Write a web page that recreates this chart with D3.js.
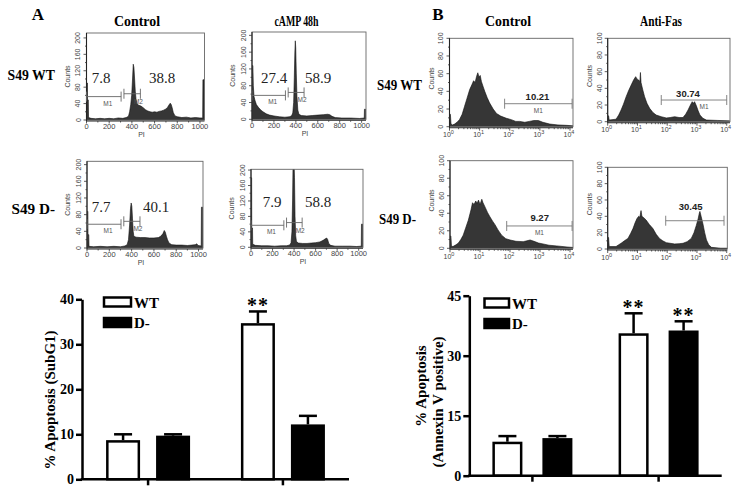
<!DOCTYPE html>
<html>
<head>
<meta charset="utf-8">
<script src="https://d3js.org/d3.v7.min.js"></script>
<style>
  body { margin: 0; background: #fff; }
  svg { display: block; }
</style>
</head>
<body>
<svg id="fig" width="743" height="496"></svg>
<script>
// ----- values -----
const conditionsA = ["Control", "cAMP 48h"];
const conditionsB = ["Control", "Anti-Fas"];
const cellLines = ["S49 WT", "S49 D-"];

// PI histograms: [channel, counts]
const piCtrlWT = [[0,0],[2,90],[8,90],[9,49],[16,49],[18,6],[40,4],[80,3],[120,4],[160,3],[200,4],[240,3],[280,5],[320,4],[350,6],[370,9],[380,20],[390,38],[398,60],[405,95],[412,136],[418,128],[424,100],[430,70],[436,52],[445,40],[460,36],[480,34],[500,30],[520,25],[540,22],[560,20],[580,19],[600,20],[620,19],[640,21],[660,22],[680,24],[700,27],[715,31],[728,37],[738,41],[746,38],[755,30],[765,18],[780,10],[800,8],[840,6],[880,7],[920,5],[960,6],[1000,5],[1024,5],[1026,98],[1036,98],[1038,0]];
const piCampWT = [[0,0],[2,128],[8,128],[12,80],[18,55],[26,46],[40,35],[60,28],[80,22],[100,18],[130,13],[160,10],[200,8],[250,6],[300,5],[340,6],[360,8],[372,15],[380,40],[386,100],[391,160],[395,187],[399,170],[404,110],[410,55],[418,22],[428,12],[450,9],[500,8],[550,9],[600,10],[650,11],[690,12],[710,11],[730,7],[760,4],[820,3],[900,3],[980,2],[1024,3],[1026,24],[1036,24],[1038,0]];
const piCtrlD = [[0,0],[2,88],[8,88],[9,32],[16,32],[18,4],[60,3],[120,4],[180,3],[240,4],[300,3],[340,5],[360,8],[372,20],[382,55],[390,95],[396,108],[402,100],[408,70],[414,40],[420,28],[440,26],[480,25],[520,25],[560,24],[600,24],[640,25],[660,28],[680,34],[693,42],[702,38],[712,28],[722,20],[735,12],[760,8],[800,7],[850,7],[900,6],[940,7],[970,8],[985,10],[995,6],[1024,5],[1026,98],[1036,98],[1038,0]];
const piCampD = [[0,0],[2,180],[6,180],[7,50],[14,50],[16,8],[40,5],[100,4],[160,4],[220,3],[280,4],[330,4],[360,6],[372,12],[380,40],[386,120],[391,230],[398,240],[404,180],[409,80],[415,30],[422,15],[440,11],[480,10],[520,10],[560,11],[600,12],[640,14],[670,18],[690,22],[703,24],[712,20],[722,10],[740,5],[780,3],[850,3],[920,3],[980,2],[1024,3],[1026,60],[1036,60],[1038,0]];
const piPct = [["7.8", "38.8"], ["27.4", "58.9"], ["7.7", "40.1"], ["7.9", "58.8"]];
const piM1 = [0, 305, 57];   // start, end, height (counts)
const piM2 = [330, 475, 64];
const piXTicks = [0, 200, 400, 600, 800, 1000];
const piYTicks = [0, 40, 80, 120, 160, 200];

// Annexin V histograms: [log10 intensity, counts]
const anxCtrlWT = [[0,0],[0,14],[0.03,14],[0.05,3],[0.1,2],[0.17,3],[0.25,5],[0.33,8],[0.42,14],[0.5,23],[0.58,32],[0.67,42],[0.75,48],[0.8,52],[0.85,50],[0.9,57],[0.94,61],[0.98,56],[1.02,58],[1.06,51],[1.12,45],[1.17,40],[1.25,33],[1.33,27],[1.45,20],[1.56,15],[1.7,12],[1.89,9.5],[2.05,8],[2.2,6],[2.33,6],[2.5,5],[2.65,6],[2.8,7],[2.95,7],[3.1,5],[3.33,3],[3.6,2],[3.9,1.5],[4.1,1],[4.1,0]];
const anxFasWT = [[0,0],[0,7],[0.03,7],[0.05,2],[0.28,3],[0.37,8],[0.45,14],[0.53,21],[0.62,30],[0.7,37],[0.79,44],[0.87,50],[0.94,54],[0.99,51],[1.04,50],[1.08,48],[1.1,59],[1.12,47],[1.18,38],[1.24,30],[1.32,22],[1.41,16],[1.52,11],[1.63,8],[1.8,6],[1.97,4.5],[2.1,5],[2.25,6],[2.4,5],[2.53,5],[2.62,9],[2.7,14],[2.78,20],[2.84,24],[2.88,22],[2.92,24],[2.98,19],[3.04,13],[3.1,8],[3.2,4],[3.32,2],[3.7,1.5],[4.1,1],[4.1,0]];
const anxCtrlD = [[0,0],[0,14],[0.03,14],[0.05,2],[0.11,2.3],[0.2,4],[0.28,6],[0.36,10],[0.44,15],[0.52,23],[0.61,32],[0.7,44],[0.75,52],[0.8,50],[0.86,54],[0.9,51],[0.95,55],[1.0,50],[1.06,56],[1.1,52],[1.17,47],[1.25,41],[1.33,36],[1.42,31],[1.5,27],[1.6,21],[1.72,15],[1.86,11],[2.0,9.5],[2.2,8],[2.44,7.6],[2.56,8.5],[2.67,9.5],[2.8,8],[2.95,6],[3.1,5],[3.3,3.5],[3.56,2.7],[3.9,1.5],[4.1,1],[4.1,0]];
const anxFasD = [[0,0],[0,14],[0.03,14],[0.05,3],[0.28,3],[0.36,5],[0.45,7],[0.56,10],[0.68,13],[0.77,19],[0.85,25],[0.92,32],[0.98,37],[1.04,40],[1.08,39],[1.12,47],[1.15,40],[1.22,38],[1.29,35.5],[1.4,30],[1.52,25],[1.63,18],[1.74,13],[1.85,10],[1.97,7.8],[2.1,7],[2.25,6.2],[2.4,6.5],[2.53,7],[2.67,9],[2.81,13],[2.9,20],[2.98,29],[3.04,37],[3.08,44],[3.1,46],[3.14,40],[3.2,31],[3.26,20],[3.32,11],[3.4,5],[3.49,2],[3.8,1],[4.02,1],[4.02,0]];
const anxPct = ["10.21", "30.74", "9.27", "30.45"];
const anxGates = [[1.83, 4.07, 26], [1.80, 4.0, 26], [1.89, 4.07, 25.5], [1.95, 3.91, 34.6]];
const anxXTicks = [0, 1, 2, 3, 4];
const anxYTicks = [0, 20, 40, 60, 80, 100];

// bar charts (order: WT control, D- control, WT treated, D- treated)
const barGroups = ["untreated", "treated"];
const barSeries = ["WT", "D-"];
const subG1Mean = [8.7, 9.7, 34.7, 12.2];
const subG1Err = [10.0, 10.0, 37.3, 14.1];
const subG1Stars = ["", "", "**", ""];
const subG1Ticks = [0, 10, 20, 30, 40];
const annexMean = [8.5, 9.4, 35.6, 36.3];
const annexErr = [9.9, 9.9, 40.6, 38.6];
const annexStars = ["", "", "**", "**"];
const annexTicks = [0, 15, 30, 45];

// ----- drawing -----
const svg = d3.select("#fig");
const serif = "'Liberation Serif','Times New Roman',serif";
const sans = "'Liberation Sans',Arial,sans-serif";

function txt(x, y, s, size, opts = {}) {
  const t = svg.append("text")
    .attr("x", x).attr("y", y)
    .attr("font-family", opts.family || serif)
    .attr("font-size", size)
    .attr("font-weight", opts.weight || "normal")
    .attr("fill", opts.fill || "#000")
    .attr("text-anchor", opts.anchor || "start")
    .text(s);
  if (opts.len) t.attr("textLength", opts.len).attr("lengthAdjust", "spacingAndGlyphs");
  if (opts.rot) t.attr("transform", `rotate(-90,${x},${y})`);
  return t;
}

// panel letters, column titles, row labels
txt(38, 20, "A", 17, { weight: "bold", anchor: "middle" });
txt(438, 20, "B", 17, { weight: "bold", anchor: "middle" });
txt(114, 25.5, conditionsA[0], 14, { weight: "bold", len: 46 });
txt(274.5, 25.5, conditionsA[1], 14, { weight: "bold", len: 44 });
txt(485, 25.5, conditionsB[0], 14, { weight: "bold", len: 46 });
txt(640, 25.5, conditionsB[1], 14, { weight: "bold", len: 42 });
txt(7.5, 80, cellLines[0], 14, { weight: "bold", len: 47.5 });
txt(11.5, 214, cellLines[1], 14, { weight: "bold", len: 43.5 });
txt(377, 90, cellLines[0], 14, { weight: "bold", len: 45 });
txt(379, 224, cellLines[1], 14, { weight: "bold", len: 37 });

const piPanels = [
  { data: piCtrlWT, pct: piPct[0], x0: 86.5, x1: 204.5, y0: 33, y1: 120, yMax: 212, lab: [[101, 83], [162, 83]] },
  { data: piCampWT, pct: piPct[1], x0: 252, x1: 366, y0: 32, y1: 119.3, yMax: 208, lab: [[274, 83], [318, 83]] },
  { data: piCtrlD, pct: piPct[2], x0: 87, x1: 203, y0: 161.3, y1: 248, yMax: 208, lab: [[101, 212], [156, 212]] },
  { data: piCampD, pct: piPct[3], x0: 251, x1: 363, y0: 169.3, y1: 247.3, yMax: 202, lab: [[272, 207], [318, 207]] }
];

const anxPanels = [
  { data: anxCtrlWT, pct: anxPct[0], gate: anxGates[0], x0: 449.5, x1: 573, y0: 38.3, y1: 126.7, xMax: 4.1, lab: [537.5, 99.5], m1: 0 },
  { data: anxFasWT, pct: anxPct[1], gate: anxGates[1], x0: 607.7, x1: 730, y0: 38.3, y1: 121.7, xMax: 4.11, lab: [688, 96.5], m1: 10 },
  { data: anxCtrlD, pct: anxPct[2], gate: anxGates[2], x0: 450, x1: 573, y0: 160.7, y1: 248.3, xMax: 4.1, lab: [539.7, 220.7], m1: 0 },
  { data: anxFasD, pct: anxPct[3], gate: anxGates[3], x0: 607.7, x1: 727.3, y0: 167.3, y1: 249, xMax: 4.02, lab: [690.7, 210], m1: null }
];

let clipId = 0;
function histogram(p, x, y) {
  const id = "clip" + (clipId++);
  svg.append("clipPath").attr("id", id)
    .append("rect").attr("x", p.x0).attr("y", p.y0)
    .attr("width", p.x1 - p.x0).attr("height", p.y1 - p.y0);
  const area = d3.area().x(d => x(d[0])).y0(y(0)).y1(d => y(d[1]));
  svg.append("path").datum(p.data)
    .attr("clip-path", `url(#${id})`)
    .attr("d", area)
    .attr("fill", "#363636")
    .attr("stroke", "#111").attr("stroke-width", 0.6);
  // frame
  svg.append("rect").attr("x", p.x0).attr("y", p.y0)
    .attr("width", p.x1 - p.x0).attr("height", p.y1 - p.y0)
    .attr("fill", "none").attr("stroke", "#666").attr("stroke-width", 0.9);
  svg.append("path")
    .attr("d", `M${p.x0},${p.y0}V${p.y1 + 1}H${p.x1}`)
    .attr("fill", "none").attr("stroke", "#222").attr("stroke-width", 1.1);
}

function tick(x1, y1, x2, y2, w = 0.8) {
  svg.append("line").attr("x1", x1).attr("y1", y1).attr("x2", x2).attr("y2", y2)
    .attr("stroke", "#333").attr("stroke-width", w);
}

function marker(x, y, a, b, h, col = "#666") {
  const g = svg.append("g").attr("stroke", col).attr("stroke-width", 0.9).attr("fill", "none");
  g.append("line").attr("x1", x(a)).attr("x2", x(b)).attr("y1", y(h)).attr("y2", y(h));
  [a, b].forEach(v => g.append("line").attr("x1", x(v)).attr("x2", x(v))
    .attr("y1", y(h) - 5).attr("y2", y(h) + 5));
}

piPanels.forEach(p => {
  const x = d3.scaleLinear().domain([0, 1040]).range([p.x0, p.x1]);
  const y = d3.scaleLinear().domain([0, p.yMax]).range([p.y1, p.y0]);
  histogram(p, x, y);
  d3.range(0, 1040, 100).forEach(v => tick(x(v), p.y1 + 1, x(v), p.y1 + (v % 200 ? 2.5 : 3.5)));
  d3.range(0, p.yMax, 20).forEach(v => tick(p.x0, y(v), p.x0 - (v % 40 ? 1.5 : 3), y(v)));
  piXTicks.forEach(v => txt(x(v), p.y1 + 9, String(v), 7.5, { family: sans, anchor: "middle", fill: "#444" }));
  piYTicks.forEach(v => txt(p.x0 - 6, y(v), String(v), 7, { family: sans, anchor: "middle", fill: "#444", rot: true }));
  txt(p.x0 - 17, (p.y0 + p.y1) / 2, "Counts", 7, { family: sans, anchor: "middle", fill: "#444", rot: true });
  txt((p.x0 + p.x1) / 2 - 4, p.y1 + 17, "PI", 7, { family: sans, anchor: "middle", fill: "#444" });
  marker(x, y, piM1[0], piM1[1], piM1[2]);
  marker(x, y, piM2[0], piM2[1], piM2[2]);
  txt((x(piM1[0]) + x(piM1[1])) / 2 + 4, y(piM1[2]) + 9, "M1", 6.5, { family: sans, anchor: "middle", fill: "#555" });
  txt(x(piM2[1]) - 2, y(piM2[2]) + 10, "M2", 6.5, { family: sans, anchor: "middle", fill: "#555" });
  txt(p.lab[0][0], p.lab[0][1], p.pct[0], 15, { anchor: "middle", fill: "#222" });
  txt(p.lab[1][0], p.lab[1][1], p.pct[1], 15, { anchor: "middle", fill: "#222" });
});

anxPanels.forEach(p => {
  const x = d3.scaleLinear().domain([0, p.xMax]).range([p.x0, p.x1]);
  const y = d3.scaleLinear().domain([0, 100]).range([p.y1, p.y0]);
  histogram(p, x, y);
  anxXTicks.forEach(d => {
    tick(x(d), p.y1 + 1, x(d), p.y1 + 4);
    if (d < 4) d3.range(2, 10).forEach(k => {
      const v = d + Math.log10(k);
      tick(x(v), p.y1 + 1, x(v), p.y1 + 2.5);
    });
    const t = txt(x(d) - 1, p.y1 + 10.5, "10", 7, { family: sans, anchor: "middle", fill: "#444" });
    t.append("tspan").attr("dy", -3).attr("font-size", 5.5).text(String(d));
  });
  d3.range(0, 101, 10).forEach(v => tick(p.x0, y(v), p.x0 - (v % 20 ? 1.5 : 3), y(v)));
  anxYTicks.forEach(v => txt(p.x0 - 6, y(v), String(v), 7, { family: sans, anchor: "middle", fill: "#444", rot: true }));
  txt(p.x0 - 16, (p.y0 + p.y1) / 2 - 4, "Counts", 7, { family: sans, anchor: "middle", fill: "#444", rot: true });
  const [a, b, h] = p.gate;
  marker(x, y, a, b, h, "#777");
  if (p.m1 !== null) txt((x(a) + x(b)) / 2 + p.m1, y(h) + 9, "M1", 6.5, { family: sans, anchor: "middle", fill: "#555" });
  txt(p.lab[0], p.lab[1], p.pct, 9.5, { family: sans, weight: "bold", anchor: "middle", fill: "#222" });
});

// ----- bar charts -----
function barChart(cfg) {
  const y = d3.scaleLinear().domain([0, cfg.ticks[cfg.ticks.length - 1]]).range([cfg.bottom, cfg.top]);
  const x = d3.scalePoint().domain(barGroups).range([cfg.left, cfg.right]).padding(cfg.pad);
  const xs = d3.scaleBand().domain(barSeries).range([-cfg.half, cfg.half]).paddingInner(cfg.inner);
  const rows = cfg.mean.map((m, i) => ({
    group: barGroups[Math.floor(i / 2)], series: barSeries[i % 2],
    mean: m, err: cfg.err[i], star: cfg.stars[i]
  }));
  const cx = d => x(d.group) + xs(d.series) + xs.bandwidth() / 2;
  const g = svg.append("g");

  // error whiskers (upper only)
  g.selectAll("line.err").data(rows).join("line")
    .attr("x1", cx).attr("x2", cx)
    .attr("y1", d => y(d.mean)).attr("y2", d => y(d.err))
    .attr("stroke", "#000").attr("stroke-width", 2.5);
  g.selectAll("line.cap").data(rows).join("line")
    .attr("x1", d => cx(d) - 9).attr("x2", d => cx(d) + 9)
    .attr("y1", d => y(d.err)).attr("y2", d => y(d.err))
    .attr("stroke", "#000").attr("stroke-width", 2.5);
  // bars
  g.selectAll("rect.bar").data(rows).join("rect")
    .attr("x", d => x(d.group) + xs(d.series) + 1.25)
    .attr("width", xs.bandwidth() - 2.5)
    .attr("y", d => y(d.mean) + 1.25)
    .attr("height", d => y(0) - y(d.mean) - 1.25)
    .attr("fill", d => d.series === "WT" ? "#fff" : "#000")
    .attr("stroke", "#000").attr("stroke-width", 2.5);
  // significance
  g.selectAll("text.star").data(rows.filter(d => d.star)).join("text")
    .attr("x", cx).attr("y", d => y(d.err) + 1)
    .attr("text-anchor", "middle")
    .attr("font-family", serif).attr("font-weight", "bold").attr("font-size", 20)
    .attr("letter-spacing", 1)
    .text(d => d.star);

  // axes
  const ya = g.append("g").attr("transform", `translate(${cfg.left},0)`)
    .call(d3.axisLeft(y).tickValues(cfg.ticks).tickSize(6).tickSizeOuter(0).tickPadding(2));
  ya.select(".domain").attr("stroke-width", 2.5);
  ya.selectAll(".tick line").attr("stroke-width", 2.5);
  ya.selectAll(".tick text").attr("font-family", serif).attr("font-weight", "bold")
    .attr("font-size", 14).attr("fill", "#000");
  g.append("line").attr("x1", cfg.left - 1.25).attr("x2", cfg.right)
    .attr("y1", y(0)).attr("y2", y(0)).attr("stroke", "#000").attr("stroke-width", 2.5);
  g.selectAll("line.xt").data(barGroups).join("line")
    .attr("x1", d => x(d)).attr("x2", d => x(d))
    .attr("y1", y(0)).attr("y2", y(0) + 6)
    .attr("stroke", "#000").attr("stroke-width", 2.5);

  // legend
  barSeries.forEach((s, i) => {
    const ly = cfg.legY + i * 20.5;
    g.append("rect").attr("x", cfg.legX).attr("y", ly)
      .attr("width", cfg.legW).attr("height", 9)
      .attr("fill", s === "WT" ? "#fff" : "#000")
      .attr("stroke", "#000").attr("stroke-width", 2.5);
    g.append("text").attr("x", cfg.legX + cfg.legW + 3).attr("y", ly + 10)
      .attr("font-family", serif).attr("font-weight", "bold").attr("font-size", 15)
      .text(s);
  });
}

barChart({
  mean: subG1Mean, err: subG1Err, stars: subG1Stars, ticks: subG1Ticks,
  left: 82, right: 349, top: 299.3, bottom: 479.3, pad: 0.49, half: 42, inner: 0.32,
  legX: 104, legY: 297.5, legW: 27
});
barChart({
  mean: annexMean, err: annexErr, stars: annexStars, ticks: annexTicks,
  left: 469.3, right: 721.7, top: 295.7, bottom: 475.7, pad: 0.5, half: 40, inner: 0.4,
  legX: 484.5, legY: 298.5, legW: 24.5
});

txt(55, 400, "% Apoptosis (SubG1)", 15, { weight: "bold", anchor: "middle", rot: true });
txt(426, 386, "% Apoptosis", 15, { weight: "bold", anchor: "middle", rot: true });
txt(443, 402, "(Annexin V positive)", 15, { weight: "bold", anchor: "middle", rot: true });
</script>
</body>
</html>
